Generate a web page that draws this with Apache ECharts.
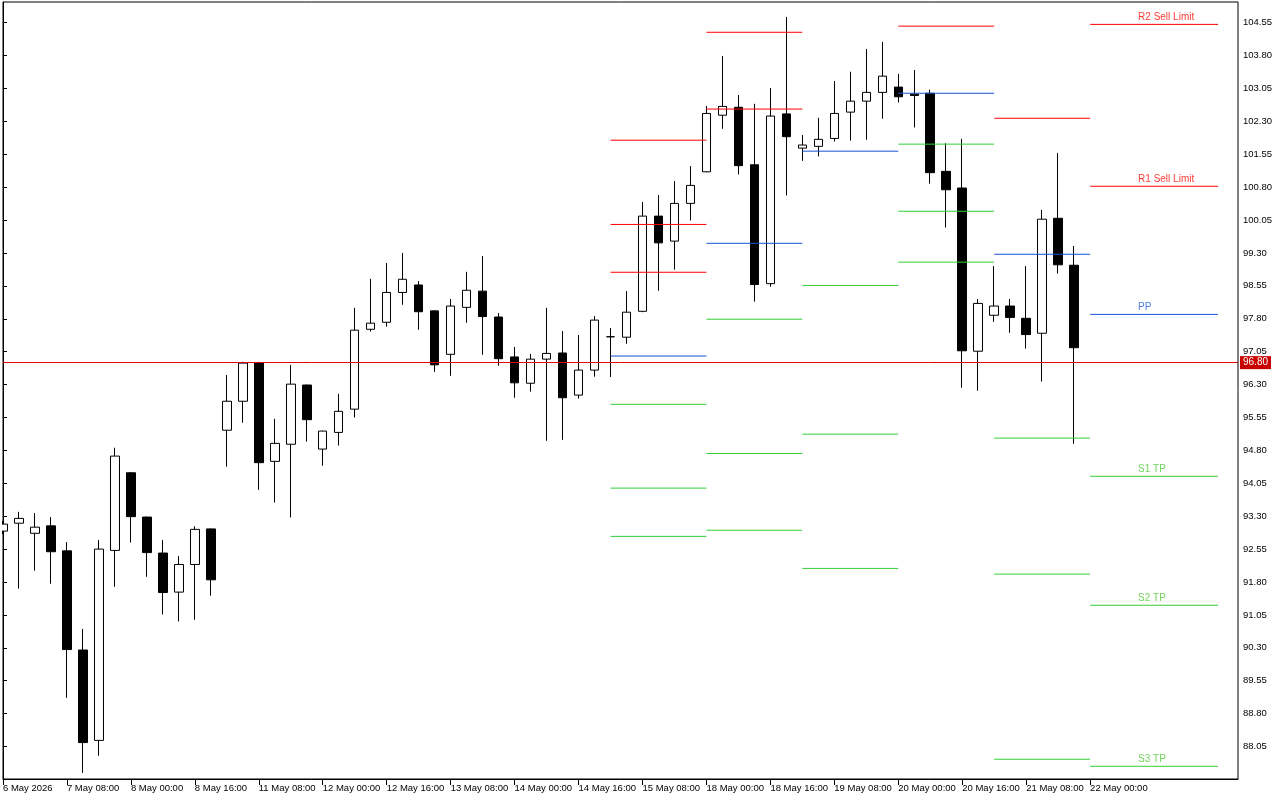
<!DOCTYPE html>
<html><head><meta charset="utf-8">
<script src="https://cdn.jsdelivr.net/npm/echarts@6/dist/echarts.min.js"></script>
<style>html,body{margin:0;padding:0;background:#fff}#c{width:1280px;height:800px}</style>
</head><body><div id="c"></div>
<script>
// time axis labels (H4 bars) and the bar index each label sits on
const tickLabels = ['6 May 2026','7 May 08:00','8 May 00:00','8 May 16:00','11 May 08:00','12 May 00:00','12 May 16:00','13 May 08:00','14 May 00:00','14 May 16:00','15 May 08:00','18 May 00:00','18 May 16:00','19 May 08:00','20 May 00:00','20 May 16:00','21 May 08:00','22 May 00:00'];
const tickBars = [0,4,8,12,16,20,24,28,32,36,40,44,48,52,56,60,64,68];
// price axis tick labels
const yTicks = [88.05,88.80,89.55,90.30,91.05,91.80,92.55,93.30,94.05,94.80,95.55,96.30,97.05,97.80,98.55,99.30,100.05,100.80,101.55,102.30,103.05,103.80,104.55];

// OHLC per H4 bar
const opens = [92.96,93.14,92.91,93.08,92.51,90.25,88.19,92.52,94.29,93.28,
  92.46,91.57,92.20,93.01,95.26,95.92,96.80,94.55,94.94,96.29,
  94.83,95.21,95.74,97.56,97.72,98.40,98.57,97.98,96.99,98.06,
  98.43,97.84,96.93,96.33,96.88,97.02,96.06,96.63,97.39,97.38,
  97.97,100.14,99.57,100.43,101.15,102.44,102.62,101.31,98.60,102.47,
  101.69,101.73,101.91,102.51,102.76,102.96,103.08,102.92,102.94,101.16,
  100.78,97.06,97.88,98.09,97.81,97.47,100.09,99.02];
const closes = [93.12,93.25,93.05,92.49,90.26,88.14,92.55,94.67,93.29,92.47,
  91.56,92.20,93.00,91.85,95.92,96.79,94.52,94.96,96.31,95.50,
  95.24,95.69,97.54,97.70,98.40,98.70,97.96,96.75,98.09,98.45,
  97.85,96.89,96.34,96.88,97.01,96.00,96.63,97.77,97.39,97.95,
  100.14,99.53,100.43,100.84,102.48,102.64,101.29,98.58,102.42,101.95,
  101.76,101.89,102.48,102.76,102.96,103.33,102.86,102.89,101.13,100.74,
  97.07,98.15,98.09,97.83,97.44,100.07,99.03,97.14];
const lows = [92.89,91.65,92.06,91.76,89.16,87.45,87.84,91.69,92.70,91.92,
  91.06,90.90,90.94,91.49,94.43,95.43,93.90,93.61,93.27,95.00,
  94.45,94.91,95.55,97.51,97.62,98.12,97.55,96.59,96.50,97.71,
  96.98,96.73,96.00,96.14,95.02,95.04,95.98,96.48,96.47,97.23,
  97.95,98.44,98.92,100.04,101.14,102.13,101.09,98.19,98.53,100.61,
  101.40,101.50,101.84,101.86,101.88,102.36,102.73,102.16,100.88,99.88,
  96.23,96.16,97.73,97.48,97.12,96.37,98.83,94.95];
const highs = [93.19,93.40,93.37,93.28,92.71,90.73,92.76,94.86,94.30,93.29,
  92.76,92.39,93.07,93.02,96.52,96.82,96.82,95.52,96.75,96.30,
  95.25,96.09,98.05,98.71,99.07,99.30,98.66,97.99,98.25,98.87,
  99.23,97.93,97.16,97.00,98.05,97.52,97.43,97.86,97.59,98.43,
  100.46,100.62,100.94,101.28,102.65,103.79,102.90,102.70,103.06,104.68,
  101.99,102.38,103.22,103.43,103.95,104.11,103.38,103.47,103.02,101.80,
  101.90,98.25,99.00,98.25,99.00,100.28,101.58,99.46];

// daily pivot segments (bar index where each day's levels start / end)
const segStart = [38,44,50,56,62,68];
const segEnd   = [44,50,56,62,68,76];
const R3 = [101.87,null,null,null,null,null];
const R2 = [99.95,104.33,null,null,null,104.51];
const R1 = [98.86,102.58,null,104.47,102.37,100.82];
const PP = [96.95,99.52,101.62,102.94,99.27,97.90];
const S1 = [95.85,97.79,98.56,101.78,95.08,94.21];
const S2 = [93.94,94.73,95.17,100.25,91.98,91.27];
const S3 = [92.84,92.98,92.11,99.09,87.76,87.60];
const levelNames = ['R3','R2','R1','PP','S1','S2','S3'];
const levelText = {R2:'R2 Sell Limit', R1:'R1 Sell Limit', PP:'PP', S1:'S1 TP', S2:'S2 TP', S3:'S3 TP'};
const labelBar = 71;
const lastPrice = 96.80;

const RED = '#ff0000', BLUE = '#1553d1', GREEN = '#32cd32';
const FONT = 'Liberation Sans, Arial, sans-serif';
const levels = {R3, R2, R1, PP, S1, S2, S3};
function colorOf(n){ return n[0]==='R' ? RED : (n==='PP' ? BLUE : GREEN); }
function textColorOf(n){ return n[0]==='R' ? '#ff0a00' : (n==='PP' ? '#1d5ad8' : '#4ccc30'); }

const candleData = opens.map((o,i)=>[i, o, closes[i], lows[i], highs[i]]);

const series = [{
  type:'candlestick', data:candleData, encode:{x:0, y:[1,2,3,4]},
  barWidth:9, clip:true, z:2,
  itemStyle:{color:'#ffffff', color0:'#000000', borderColor:'#000000', borderColor0:'#000000', borderWidth:1},
  markLine:{
    symbol:'none', silent:true, animation:false,
    lineStyle:{color:'#e60000', width:1, type:'solid'},
    label:{position:'end', distance:2, formatter:()=>lastPrice.toFixed(2), backgroundColor:'#c80000', color:'#ffffff',
      fontFamily:FONT, fontSize:10, padding:[2,3,1,3]},
    data:[{yAxis:lastPrice}]
  }
}];

levelNames.forEach(n=>{
  const arr = levels[n];
  const d = [];
  arr.forEach((v,i)=>{
    if (v==null) return;
    d.push([segStart[i], v],[segEnd[i], v],[segEnd[i], null]);
  });
  series.push({type:'line', data:d, showSymbol:false, connectNulls:false, silent:true, z:3,
    lineStyle:{color:colorOf(n), width:1}, animation:false});
});

const lblData = [];
levelNames.forEach(n=>{
  const arr = levels[n];
  const v = arr[arr.length-1];
  if (v==null || !levelText[n]) return;
  lblData.push({value:[labelBar, v], name:levelText[n],
    label:{color:textColorOf(n)}});
});
series.push({type:'scatter', data:lblData, symbolSize:0, silent:true, z:4,
  label:{show:true, position:'right', distance:0, offset:[0,-7], formatter:p=>p.name, fontFamily:FONT, fontSize:10}});

const chart = echarts.init(document.getElementById('c'), null, {renderer:'canvas'});
chart.setOption({
  animation:false,
  backgroundColor:'#ffffff',
  grid:{left:2, right:42, top:2, bottom:21, show:true, borderColor:'#000', borderWidth:1, backgroundColor:'transparent'},
  // white margin strip left of the plot frame so the first, partly off-screen candle is cut at the frame
  graphic:[{type:'rect', left:0, top:0, shape:{width:2, height:782}, style:{fill:'#ffffff'}, z:100, silent:true}],
  xAxis:{type:'value', min:0, max:77.25, splitLine:{show:false},
    axisLine:{show:true, onZero:false, lineStyle:{color:'#000'}},
    axisTick:{show:true, length:6, lineStyle:{color:'#000'}, customValues:tickBars},
    axisLabel:{customValues:tickBars, formatter:v=>tickLabels[tickBars.indexOf(v)], align:'left', margin:4,
      color:'#000', fontFamily:FONT, fontSize:9.5, showMinLabel:true, showMaxLabel:true}},
  yAxis:{type:'value', position:'right', min:87.31, max:105.02, scale:true, splitLine:{show:false},
    axisLine:{show:true, lineStyle:{color:'#000'}},
    axisTick:{show:true, length:4, lineStyle:{color:'#000'}, customValues:yTicks},
    axisLabel:{customValues:yTicks, formatter:v=>v.toFixed(2), margin:5, color:'#000', fontFamily:FONT, fontSize:9.5}},
  series
});
</script></body></html>
